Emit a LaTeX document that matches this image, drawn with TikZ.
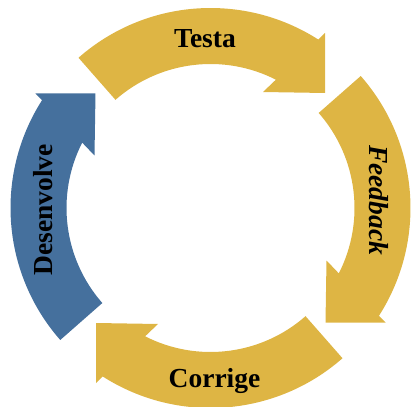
\documentclass[tikz,border=0pt]{standalone}
\usepackage{fontspec}
\setmainfont{Liberation Serif}
\definecolor{cyclegold}{RGB}{222,181,68}
\definecolor{cycleblue}{RGB}{69,112,157}
\begin{document}
\begin{tikzpicture}[x=1pt,y=1pt,
  lbl/.style={font=\fontsize{27.5}{30}\selectfont\bfseries, inner sep=0pt, anchor=base},
  bend arrow/.pic={
    \fill[pic actions]
      (131.3:200) arc[start angle=131.3, end angle=57.4, radius=200]
      -- (114.5,175) -- (114.5,115) -- (52.5,116)
      -- (63:144) arc[start angle=63, end angle=131.3, radius=144] -- cycle;
  }]
\useasboundingbox (-210.5,-198) rectangle (200.5,208);

% four curved arrows around the cycle, clockwise
\pic[fill=cyclegold] (testaArrow) {bend arrow};
\pic[fill=cyclegold, rotate=-90] (feedbackArrow) {bend arrow};
\pic[fill=cyclegold, rotate=180] (corrigeArrow) {bend arrow};
\pic[fill=cycleblue, rotate=90] (desenvolveArrow) {bend arrow};

% labels
\node[lbl] (testa) at (-5.5,160) {Testa};
\node[lbl, rotate=-90] (feedback) at (158.5,8) {\itshape Feedback};
\node[lbl] (corrige) at (4,-179) {Corrige};
\node[lbl, rotate=90] (desenvolve) at (-157.5,-2) {Desenvolve};
\end{tikzpicture}
\end{document}
